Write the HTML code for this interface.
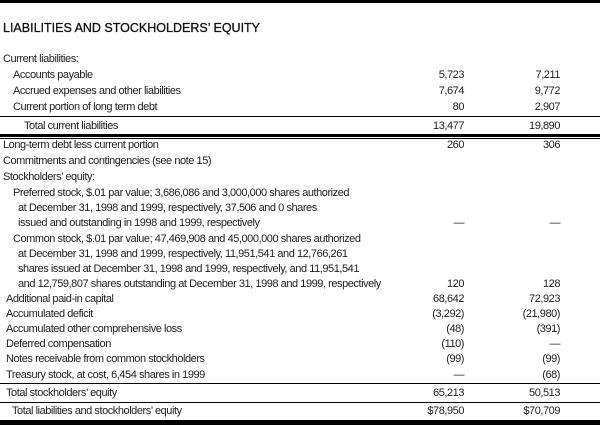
<!DOCTYPE html>
<html><head><meta charset="utf-8"><style>
body{margin:0;width:600px;height:425px;background:#fff;position:relative;overflow:hidden;font-family:"Liberation Sans",Arial,sans-serif;color:#222}
.r{position:absolute;left:0;width:600px;height:15px;font-size:11px;line-height:15px;letter-spacing:-0.45px;white-space:nowrap}
.r span{position:absolute}
.a{right:136px;text-align:right}
.b{right:40px;text-align:right}
.l{position:absolute;left:0;width:600px;background:#000}
</style></head><body>
<div class="l" style="top:0;height:3px"></div>
<div class="r" style="top:21px;font-size:12.5px;letter-spacing:0;color:#111;-webkit-text-stroke:0.3px #111"><span style="left:3px">LIABILITIES AND STOCKHOLDERS’ EQUITY</span></div>

<div class="r" style="top:52px"><span style="left:3px">Current liabilities:</span></div>
<div class="r" style="top:68px"><span style="left:13px">Accounts payable</span><span class="a">5,723</span><span class="b">7,211</span></div>
<div class="r" style="top:84px"><span style="left:13px">Accrued expenses and other liabilities</span><span class="a">7,674</span><span class="b">9,772</span></div>
<div class="r" style="top:100px"><span style="left:13px">Current portion of long term debt</span><span class="a">80</span><span class="b">2,907</span></div>
<div class="l" style="top:116px;height:1px"></div>
<div class="r" style="top:119px"><span style="left:24px">Total current liabilities</span><span class="a">13,477</span><span class="b">19,890</span></div>
<div class="l" style="top:134px;height:3px"></div>
<div class="l" style="top:138px;height:1px"></div>
<div class="r" style="top:138px"><span style="left:3px">Long-term debt less current portion</span><span class="a">260</span><span class="b">306</span></div>
<div class="r" style="top:154px"><span style="left:3px">Commitments and contingencies (see note 15)</span></div>
<div class="r" style="top:170px"><span style="left:3px">Stockholders’ equity:</span></div>
<div class="r" style="top:186px"><span style="left:13px">Preferred stock, $.01 par value; 3,686,086 and 3,000,000 shares authorized</span></div>
<div class="r" style="top:201px"><span style="left:18px">at December 31, 1998 and 1999, respectively, 37,506 and 0 shares</span></div>
<div class="r" style="top:216px"><span style="left:18px">issued and outstanding in 1998 and 1999, respectively</span><span class="a">—</span><span class="b">—</span></div>
<div class="r" style="top:232px"><span style="left:13px">Common stock, $.01 par value; 47,469,908 and 45,000,000 shares authorized</span></div>
<div class="r" style="top:247px"><span style="left:18px">at December 31, 1998 and 1999, respectively, 11,951,541 and 12,766,261</span></div>
<div class="r" style="top:262px"><span style="left:18px">shares issued at December 31, 1998 and 1999, respectively, and 11,951,541</span></div>
<div class="r" style="top:277px"><span style="left:18px">and 12,759,807 shares outstanding at December 31, 1998 and 1999, respectively</span><span class="a">120</span><span class="b">128</span></div>
<div class="r" style="top:292px"><span style="left:6px">Additional paid-in capital</span><span class="a">68,642</span><span class="b">72,923</span></div>
<div class="r" style="top:307px"><span style="left:6px">Accumulated deficit</span><span class="a">(3,292)</span><span class="b">(21,980)</span></div>
<div class="r" style="top:322px"><span style="left:6px">Accumulated other comprehensive loss</span><span class="a">(48)</span><span class="b">(391)</span></div>
<div class="r" style="top:337px"><span style="left:6px">Deferred compensation</span><span class="a">(110)</span><span class="b">—</span></div>
<div class="r" style="top:352px"><span style="left:6px">Notes receivable from common stockholders</span><span class="a">(99)</span><span class="b">(99)</span></div>
<div class="r" style="top:368px"><span style="left:6px">Treasury stock, at cost, 6,454 shares in 1999</span><span class="a">—</span><span class="b">(68)</span></div>
<div class="l" style="top:383px;height:1px"></div>
<div class="r" style="top:386px"><span style="left:6px">Total stockholders’ equity</span><span class="a">65,213</span><span class="b">50,513</span></div>
<div class="l" style="top:402px;height:1px"></div>
<div class="r" style="top:404px"><span style="left:12px">Total liabilities and stockholders’ equity</span><span class="a">$78,950</span><span class="b">$70,709</span></div>
<div class="l" style="top:420px;height:5px"></div>
</body></html>
